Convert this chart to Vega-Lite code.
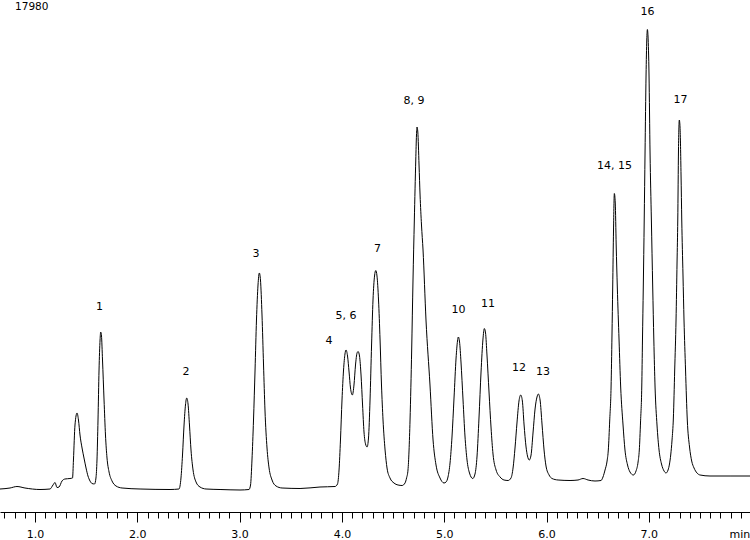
{
  "$schema": "https://vega.github.io/schema/vega-lite/v6.json",
  "width": 750,
  "height": 512,
  "autosize": {"type": "none"},
  "padding": {"left": 0, "top": 0, "right": 0, "bottom": 28},
  "background": "white",
  "config": {"view": {"stroke": null}, "font": "DejaVu Sans"},
  "layer": [
    {
      "data": {"values": [
        {"t":0.658,"s":23},{"t":0.756,"s":24},{"t":0.824,"s":25.5},{"t":0.902,"s":24},{"t":1.049,"s":22.5},
        {"t":1.147,"s":23},{"t":1.176,"s":27},{"t":1.196,"s":29.5},{"t":1.215,"s":24.5},{"t":1.235,"s":25},
        {"t":1.264,"s":31},{"t":1.293,"s":33},{"t":1.342,"s":33.5},{"t":1.367,"s":34},{"t":1.376,"s":52},
        {"t":1.391,"s":87},{"t":1.411,"s":99},{"t":1.425,"s":92},{"t":1.440,"s":77},{"t":1.460,"s":64},
        {"t":1.479,"s":54},{"t":1.499,"s":44},{"t":1.518,"s":36},{"t":1.538,"s":31},{"t":1.557,"s":28.5},
        {"t":1.582,"s":28},{"t":1.596,"s":34},{"t":1.606,"s":52},{"t":1.616,"s":92},{"t":1.626,"s":142},
        {"t":1.636,"s":172},{"t":1.642,"s":180},{"t":1.650,"s":176},{"t":1.660,"s":152},{"t":1.675,"s":112},
        {"t":1.689,"s":77},{"t":1.704,"s":54},{"t":1.724,"s":40},{"t":1.753,"s":31},{"t":1.792,"s":26},
        {"t":1.851,"s":24},{"t":2.027,"s":23},{"t":2.320,"s":22.5},{"t":2.408,"s":23},{"t":2.427,"s":34},
        {"t":2.442,"s":57},{"t":2.457,"s":87},{"t":2.471,"s":107},{"t":2.483,"s":114},{"t":2.496,"s":108},
        {"t":2.510,"s":87},{"t":2.525,"s":62},{"t":2.545,"s":42},{"t":2.574,"s":30},{"t":2.613,"s":25},
        {"t":2.672,"s":23},{"t":2.809,"s":22.5},{"t":3.004,"s":22},{"t":3.092,"s":22.5},{"t":3.107,"s":27},
        {"t":3.121,"s":52},{"t":3.136,"s":92},{"t":3.151,"s":142},{"t":3.165,"s":192},{"t":3.180,"s":227},
        {"t":3.193,"s":239},{"t":3.204,"s":232},{"t":3.219,"s":197},{"t":3.234,"s":147},{"t":3.248,"s":102},
        {"t":3.268,"s":64},{"t":3.288,"s":44},{"t":3.317,"s":32},{"t":3.356,"s":26},{"t":3.415,"s":24},
        {"t":3.591,"s":23.5},{"t":3.786,"s":25},{"t":3.933,"s":25.5},{"t":3.957,"s":28},{"t":3.972,"s":42},
        {"t":3.986,"s":72},{"t":4.001,"s":112},{"t":4.016,"s":142},{"t":4.030,"s":158},{"t":4.040,"s":162},
        {"t":4.055,"s":156},{"t":4.070,"s":140},{"t":4.084,"s":124},{"t":4.102,"s":117},{"t":4.118,"s":127},
        {"t":4.133,"s":147},{"t":4.148,"s":159},{"t":4.158,"s":160.5},{"t":4.172,"s":156},{"t":4.187,"s":137},
        {"t":4.202,"s":107},{"t":4.216,"s":80},{"t":4.231,"s":68},{"t":4.246,"s":65},{"t":4.260,"s":74},
        {"t":4.275,"s":112},{"t":4.290,"s":167},{"t":4.304,"s":212},{"t":4.319,"s":236},{"t":4.331,"s":241.5},
        {"t":4.343,"s":236},{"t":4.358,"s":212},{"t":4.373,"s":172},{"t":4.387,"s":127},{"t":4.402,"s":92},
        {"t":4.422,"s":62},{"t":4.441,"s":44},{"t":4.470,"s":34},{"t":4.509,"s":29},{"t":4.549,"s":27},
        {"t":4.588,"s":26.5},{"t":4.617,"s":29},{"t":4.632,"s":34},{"t":4.646,"s":42},{"t":4.666,"s":92},
        {"t":4.682,"s":162},{"t":4.695,"s":232},{"t":4.708,"s":292},{"t":4.722,"s":352},{"t":4.729,"s":377},
        {"t":4.734,"s":385},{"t":4.742,"s":380},{"t":4.754,"s":347},{"t":4.764,"s":317},{"t":4.778,"s":287},
        {"t":4.793,"s":262},{"t":4.822,"s":192},{"t":4.861,"s":127},{"t":4.891,"s":72},{"t":4.920,"s":47},
        {"t":4.959,"s":34},{"t":4.998,"s":29},{"t":5.018,"s":30},{"t":5.037,"s":35},{"t":5.057,"s":49},
        {"t":5.076,"s":75},{"t":5.096,"s":114},{"t":5.116,"s":154},{"t":5.130,"s":171},{"t":5.138,"s":175},
        {"t":5.150,"s":170},{"t":5.164,"s":150},{"t":5.184,"s":112},{"t":5.203,"s":76},{"t":5.223,"s":52},
        {"t":5.247,"s":39},{"t":5.279,"s":33.5},{"t":5.301,"s":38},{"t":5.321,"s":56},{"t":5.340,"s":94},
        {"t":5.360,"s":140},{"t":5.379,"s":173},{"t":5.392,"s":183.5},{"t":5.404,"s":179},{"t":5.418,"s":157},
        {"t":5.438,"s":120},{"t":5.458,"s":84},{"t":5.477,"s":58},{"t":5.507,"s":42},{"t":5.546,"s":35},
        {"t":5.585,"s":32},{"t":5.624,"s":31.5},{"t":5.653,"s":34},{"t":5.673,"s":44},{"t":5.692,"s":64},
        {"t":5.712,"s":90},{"t":5.731,"s":111},{"t":5.748,"s":117},{"t":5.764,"s":111},{"t":5.780,"s":88},
        {"t":5.800,"s":65},{"t":5.814,"s":56},{"t":5.832,"s":52},{"t":5.849,"s":57},{"t":5.868,"s":79},
        {"t":5.888,"s":103},{"t":5.907,"s":115},{"t":5.920,"s":118},{"t":5.937,"s":112},{"t":5.956,"s":88},
        {"t":5.976,"s":62},{"t":5.995,"s":46},{"t":6.025,"s":37},{"t":6.054,"s":33.5},{"t":6.113,"s":32},
        {"t":6.230,"s":31.5},{"t":6.308,"s":32},{"t":6.357,"s":33.5},{"t":6.406,"s":32},{"t":6.474,"s":31},
        {"t":6.533,"s":31.5},{"t":6.552,"s":35},{"t":6.572,"s":42},{"t":6.592,"s":51},{"t":6.604,"s":62},
        {"t":6.618,"s":92},{"t":6.631,"s":125},{"t":6.640,"s":177},{"t":6.647,"s":225},{"t":6.655,"s":282},
        {"t":6.663,"s":318.5},{"t":6.672,"s":309},{"t":6.681,"s":267},{"t":6.692,"s":225},{"t":6.709,"s":172},
        {"t":6.725,"s":125},{"t":6.748,"s":87},{"t":6.767,"s":62},{"t":6.792,"s":47},{"t":6.816,"s":40},
        {"t":6.849,"s":37},{"t":6.875,"s":41},{"t":6.895,"s":50},{"t":6.907,"s":62},{"t":6.919,"s":90},
        {"t":6.931,"s":125},{"t":6.938,"s":172},{"t":6.946,"s":225},{"t":6.955,"s":292},{"t":6.963,"s":359},
        {"t":6.973,"s":437},{"t":6.980,"s":472},{"t":6.986,"s":482.5},{"t":6.992,"s":476},{"t":7.002,"s":437},
        {"t":7.012,"s":359},{"t":7.025,"s":292},{"t":7.038,"s":225},{"t":7.049,"s":172},{"t":7.061,"s":125},
        {"t":7.080,"s":87},{"t":7.100,"s":62},{"t":7.124,"s":48},{"t":7.149,"s":41},{"t":7.168,"s":39},
        {"t":7.188,"s":42},{"t":7.202,"s":48},{"t":7.214,"s":57},{"t":7.227,"s":72},{"t":7.240,"s":94},
        {"t":7.253,"s":142},{"t":7.266,"s":192},{"t":7.276,"s":250},{"t":7.283,"s":292},{"t":7.290,"s":362},
        {"t":7.298,"s":392},{"t":7.305,"s":385},{"t":7.315,"s":337},{"t":7.322,"s":292},{"t":7.334,"s":237},
        {"t":7.344,"s":192},{"t":7.359,"s":142},{"t":7.376,"s":92},{"t":7.398,"s":65},{"t":7.419,"s":51},
        {"t":7.442,"s":44},{"t":7.471,"s":39},{"t":7.501,"s":37},{"t":7.598,"s":36},{"t":7.794,"s":36},
        {"t":7.989,"s":36}
      ]},
      "mark": {"type": "line", "interpolate": "monotone", "color": "#000000", "strokeWidth": 1},
      "encoding": {
        "x": {
          "field": "t", "type": "quantitative",
          "scale": {"domain": [0.658, 7.989], "nice": false, "zero": false},
          "axis": {
            "values": [0.7,0.8,0.9,1.0,1.1,1.2,1.3,1.4,1.5,1.6,1.7,1.8,1.9,2.0,2.1,2.2,2.3,2.4,2.5,2.6,2.7,2.8,2.9,3.0,3.1,3.2,3.3,3.4,3.5,3.6,3.7,3.8,3.9,4.0,4.1,4.2,4.3,4.4,4.5,4.6,4.7,4.8,4.9,5.0,5.1,5.2,5.3,5.4,5.5,5.6,5.7,5.8,5.9,6.0,6.1,6.2,6.3,6.4,6.5,6.6,6.7,6.8,6.9,7.0,7.1,7.2,7.3,7.4,7.5,7.6,7.7,7.8,7.9],
            "tickCount": 200,
            "tickSize": {"condition": {"test": "abs(datum.value - round(datum.value)) < 0.001", "value": 10}, "value": 6},
            "labelExpr": "abs(datum.value - round(datum.value)) < 0.001 ? format(datum.value, '.1f') : ''",
            "labelOverlap": false,
            "labelBound": false,
            "labelFlush": false,
            "labelFont": "DejaVu Sans",
            "labelFontSize": 11,
            "labelColor": "#000000",
            "labelPadding": 6,
            "domainColor": "#000000",
            "tickColor": "#000000",
            "tickWidth": 1,
            "domainWidth": 1,
            "grid": false,
            "title": "min",
            "titleFont": "DejaVu Sans",
            "titleFontSize": 11,
            "titleFontWeight": "normal",
            "titleColor": "#000000",
            "titleAlign": "left",
            "titleAnchor": "start",
            "titleBaseline": "top",
            "titleX": 729,
            "titleY": 16
          }
        },
        "y": {
          "field": "s", "type": "quantitative",
          "scale": {"domain": [0, 512], "nice": false, "zero": false},
          "axis": null
        }
      }
    },
    {
      "data": {"values": [
        {"t":1.631,"s":205,"label":"1"},
        {"t":2.476,"s":140,"label":"2"},
        {"t":3.160,"s":258,"label":"3"},
        {"t":3.874,"s":171,"label":"4"},
        {"t":4.040,"s":196,"label":"5, 6"},
        {"t":4.348,"s":263,"label":"7"},
        {"t":4.705,"s":411,"label":"8, 9"},
        {"t":5.140,"s":202,"label":"10"},
        {"t":5.428,"s":208,"label":"11"},
        {"t":5.731,"s":144,"label":"12"},
        {"t":5.966,"s":140,"label":"13"},
        {"t":6.665,"s":346,"label":"14, 15"},
        {"t":6.986,"s":500,"label":"16"},
        {"t":7.310,"s":412,"label":"17"}
      ]},
      "mark": {"type": "text", "font": "DejaVu Sans", "fontSize": 11, "color": "#000000", "align": "center", "baseline": "middle"},
      "encoding": {
        "x": {"field": "t", "type": "quantitative"},
        "y": {"field": "s", "type": "quantitative"},
        "text": {"field": "label", "type": "nominal"}
      }
    },
    {
      "data": {"values": [{"t":0.805,"s":505,"label":"17980"}]},
      "mark": {"type": "text", "font": "DejaVu Sans", "fontSize": 10.5, "color": "#000000", "align": "left", "baseline": "middle"},
      "encoding": {
        "x": {"field": "t", "type": "quantitative"},
        "y": {"field": "s", "type": "quantitative"},
        "text": {"field": "label", "type": "nominal"}
      }
    }
  ]
}
